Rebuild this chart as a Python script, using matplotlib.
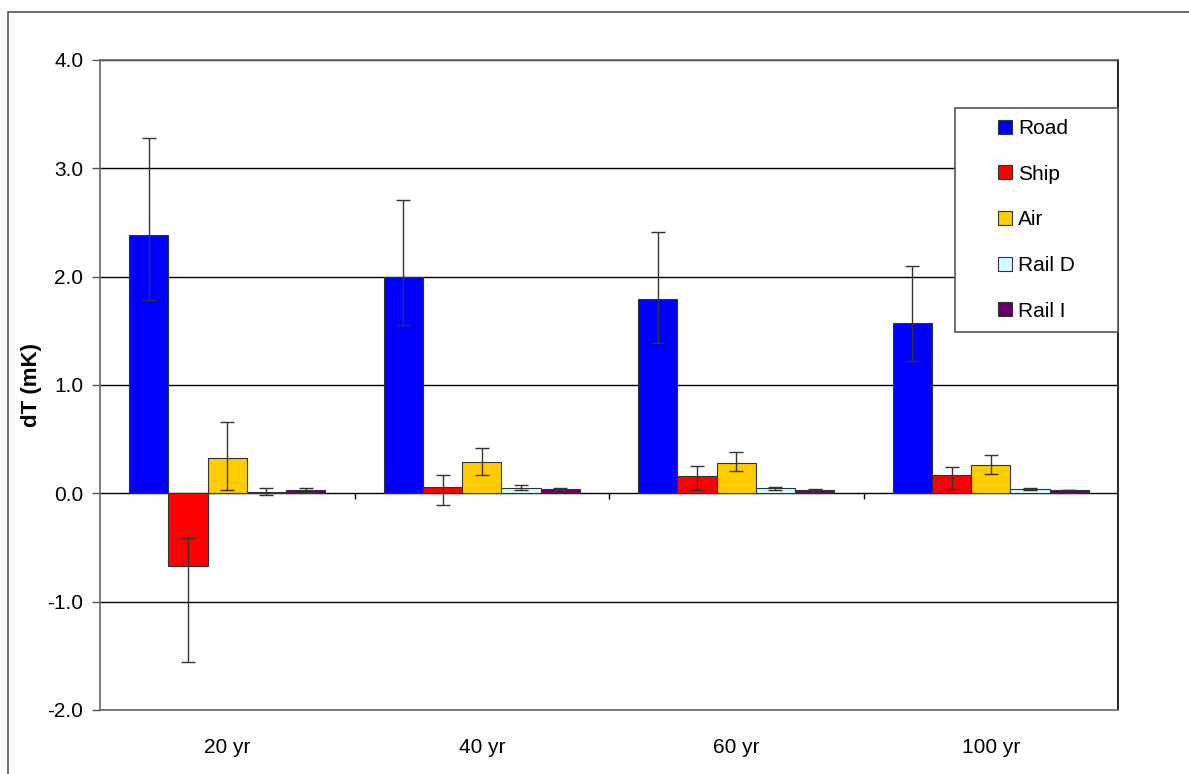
import numpy as np
import matplotlib.pyplot as plt
from matplotlib.patches import Rectangle

categories = ['20 yr', '40 yr', '60 yr', '100 yr']
series = ['Road', 'Ship', 'Air', 'Rail D', 'Rail I']
colors = ['#0000FF', '#FF0000', '#FFCC00', '#CCFFFF', '#660066']

# bar values per series (one per category)
road = [2.38, 2.00, 1.79, 1.57]
ship = [-0.67, 0.06, 0.16, 0.17]
air = [0.33, 0.29, 0.28, 0.26]
rail_d = [0.01, 0.05, 0.05, 0.04]
rail_i = [0.03, 0.04, 0.03, 0.03]

# error bar ends (upper, lower)
road_hi = [3.28, 2.71, 2.41, 2.10]
road_lo = [1.78, 1.55, 1.39, 1.22]
ship_hi = [-0.41, 0.17, 0.25, 0.24]
ship_lo = [-1.56, -0.11, 0.03, 0.04]
air_hi = [0.66, 0.42, 0.38, 0.35]
air_lo = [0.03, 0.17, 0.21, 0.18]
rail_d_hi = [0.05, 0.08, 0.06, 0.05]
rail_d_lo = [-0.02, 0.03, 0.03, 0.03]
rail_i_hi = [0.05, 0.05, 0.04, 0.03]
rail_i_lo = [0.01, 0.03, 0.02, 0.03]

values = [road, ship, air, rail_d, rail_i]
highs = [road_hi, ship_hi, air_hi, rail_d_hi, rail_i_hi]
lows = [road_lo, ship_lo, air_lo, rail_d_lo, rail_i_lo]

plt.rcParams['font.family'] = ['Liberation Sans', 'DejaVu Sans']
fig = plt.figure(figsize=(11.89, 7.74), dpi=100)
ax = fig.add_axes([0.0841, 0.0827, 0.8562, 0.8398])

# outer chart border (extends past the image edge)
fig.patches.append(Rectangle((8 / 1189, -0.1), 1.2, 1 - 12 / 774 + 0.1,
                             transform=fig.transFigure, fill=False,
                             edgecolor='#555555', lw=1.2))

x = np.arange(len(categories))
w = 0.154
for i, (name, vals) in enumerate(zip(series, values)):
    pos = x + (i - 2) * w
    vals = np.array(vals)
    hi = np.array(highs[i]) - vals
    lo = vals - np.array(lows[i])
    ax.bar(pos, vals, w, color=colors[i], edgecolor='#333333', linewidth=0.8,
           label=name, zorder=3)
    ax.errorbar(pos, vals, yerr=[lo, hi], fmt='none', ecolor='#333333',
                elinewidth=1.0, capsize=5, capthick=1.0, zorder=4)

ax.set_ylim(-2.0, 4.0)
ax.set_xlim(-0.5, len(categories) - 0.5)
ax.set_yticks(np.arange(-2.0, 4.01, 1.0))
ax.set_yticklabels([f'{v:.1f}' for v in np.arange(-2.0, 4.01, 1.0)])
ax.yaxis.grid(True, color='black', linewidth=1.0, zorder=0)
ax.set_axisbelow(True)
ax.tick_params(axis='y', length=6, width=1, color='#555555', labelsize=15, pad=6)

ax.set_xticks(x)
ax.set_xticklabels(categories)
ax.tick_params(axis='x', length=0, labelsize=15, pad=20)

# category-boundary tick marks on the zero axis
bounds = np.arange(len(categories) + 1) - 0.5
ax.vlines(bounds[1:-1], -0.05, 0, color='black', lw=1.0, zorder=2)

for s in ['left', 'top', 'bottom']:
    ax.spines[s].set_color('#666666')
    ax.spines[s].set_linewidth(1.2)
ax.spines['right'].set_color('black')
ax.spines['right'].set_linewidth(1.2)

ax.set_ylabel('dT (mK)', fontsize=16, fontweight='bold', labelpad=4)

# legend frame drawn separately
ax.add_patch(Rectangle((0.840, 0.5815), 0.160, 0.3445, transform=ax.transAxes,
                       fill=True, facecolor='white', edgecolor='#555555',
                       lw=1.2, clip_on=False, zorder=5))
leg = ax.legend(loc='center', bbox_to_anchor=(0.92, 0.754), frameon=False,
                fontsize=15, handlelength=0.65, handleheight=0.65,
                handletextpad=0.3, labelspacing=1.28)
leg.set_zorder(6)

fig.savefig('out.png', dpi=100)
